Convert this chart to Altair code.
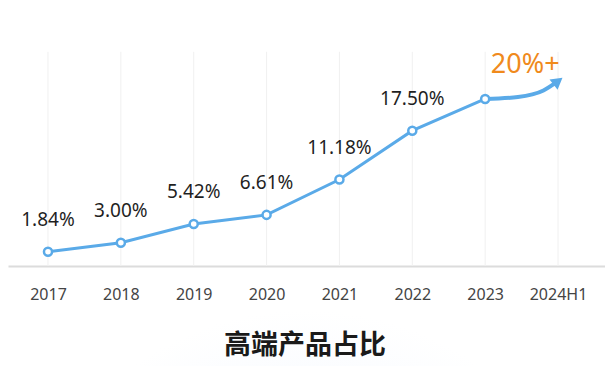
import altair as alt
import pandas as pd

# ---- data ----
years = ["2017", "2018", "2019", "2020", "2021", "2022", "2023", "2024H1"]
share = [1.84, 3.00, 5.42, 6.61, 11.18, 17.50, 21.6]          # 2023 unlabeled, estimated
share_labels = ["1.84%", "3.00%", "5.42%", "6.61%", "11.18%", "17.50%"]
arrow_x = [6.0, 6.45, 6.8, 7.0]                               # curved arrow 2023 -> 2024H1
arrow_y = [21.6, 21.85, 22.7, 23.9]
target_text = ["20%+"]
target_x = [6.55]
target_y = [26.0]
grid_top = 27.7
title_text = "高端产品占比"

BLUE = "#5aaae8"
ORANGE = "#f08a1c"
FONT = "Noto Sans"
CJK = "Noto Sans CJK SC"

idx = list(range(len(years)))
pts = pd.DataFrame({"i": idx[:len(share)], "v": share})
lab = pd.DataFrame({"i": idx[:len(share_labels)], "v": share[:len(share_labels)], "t": share_labels})
grid = pd.DataFrame({"i": idx, "y0": [0] * len(idx), "y1": [grid_top] * len(idx)})
arrow = pd.DataFrame({"i": arrow_x, "v": arrow_y, "o": list(range(len(arrow_x)))})
head = arrow.tail(1)
target = pd.DataFrame({"i": target_x, "v": target_y, "t": target_text})

label_expr = "[" + ",".join(f"'{y}'" for y in years) + "][datum.value]"

xs = alt.Scale(domain=[-0.549, 7.645], nice=False, zero=False)
ys = alt.Scale(domain=[0, 30], nice=False, zero=True)

xaxis = alt.Axis(values=idx, labelExpr=label_expr, ticks=False, grid=False,
                 domainColor="#dcdcdc", domainWidth=2, labelFontSize=16,
                 labelColor="#444444", labelPadding=20, labelFont=FONT, title=None)

glow = alt.Chart(alt.Data(values=[{}])).mark_rect(
    clip=False,
    fill={"gradient": "radial", "x1": 0.5, "y1": 0.95, "r1": 0,
          "x2": 0.5, "y2": 0.95, "r2": 0.5,
          "stops": [{"offset": 0, "color": "#eaf2fd"},
                    {"offset": 1, "color": "#ffffff"}]},
).encode(x=alt.value(0), x2=alt.value(597), y=alt.value(266), y2=alt.value(346))

title_mark = alt.Chart(alt.Data(values=[{"t": title_text}])).mark_text(
    fontSize=27, fontWeight="bold", color="#1a1a1a", font=CJK, baseline="middle", clip=False,
).encode(x=alt.value(297), y=alt.value(312), text="t:N")

grid_layer = alt.Chart(grid).mark_rule(color="#f0f0f0", strokeWidth=1).encode(
    x=alt.X("i:Q", scale=xs, axis=xaxis),
    y=alt.Y("y0:Q", scale=ys, axis=None),
    y2="y1:Q",
)

line = alt.Chart(pts).mark_line(color=BLUE, strokeWidth=3).encode(
    x=alt.X("i:Q", scale=xs), y=alt.Y("v:Q", scale=ys))

arrow_line = alt.Chart(arrow).mark_line(color=BLUE, strokeWidth=4, interpolate="monotone").encode(
    x=alt.X("i:Q", scale=xs), y=alt.Y("v:Q", scale=ys), order="o:Q")

arrow_head = alt.Chart(head).mark_point(shape="triangle-up", filled=True, color=BLUE,
                                        opacity=1, size=170, angle=52).encode(
    x=alt.X("i:Q", scale=xs), y=alt.Y("v:Q", scale=ys))

dots = alt.Chart(pts).mark_point(shape="circle", filled=True, fill="white", stroke=BLUE,
                                 strokeWidth=2.5, size=65, opacity=1).encode(
    x=alt.X("i:Q", scale=xs), y=alt.Y("v:Q", scale=ys))

texts = alt.Chart(lab).mark_text(dy=-32, fontSize=19, color="#1f1f1f", font=FONT).encode(
    x=alt.X("i:Q", scale=xs), y=alt.Y("v:Q", scale=ys), text="t:N")

target_txt = alt.Chart(target).mark_text(fontSize=27, color=ORANGE, font=FONT).encode(
    x=alt.X("i:Q", scale=xs), y=alt.Y("v:Q", scale=ys), text="t:N")

chart = alt.layer(glow, grid_layer, line, arrow_line, arrow_head, dots, texts, target_txt,
                  title_mark).properties(
    width=597, height=232,
    autosize=alt.AutoSizeParams(type="none"),
    padding={"left": 0, "top": 26, "right": 0, "bottom": 100},
    background="white",
).configure_view(stroke=None)

chart.save("out.html", embed_options={"renderer": "svg", "actions": False})
